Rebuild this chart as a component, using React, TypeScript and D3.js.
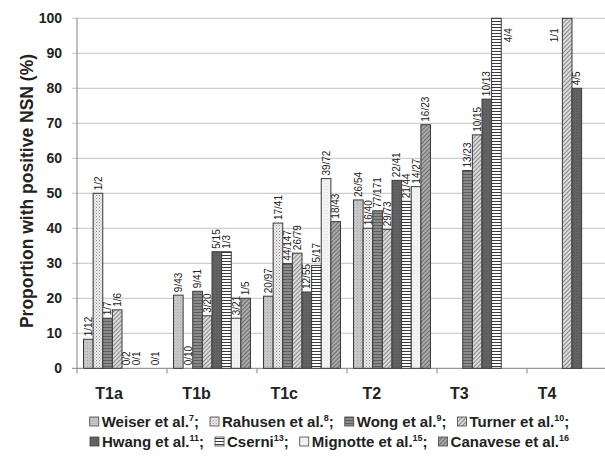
import React, { useEffect, useRef } from "react";
import * as d3 from "d3";

const categories = ["T1a", "T1b", "T1c", "T2", "T3", "T4"];
const seriesNames = ["Weiser et al.", "Rahusen et al.", "Wong et al.", "Turner et al.", "Hwang et al.", "Cserni", "Mignotte et al.", "Canavese et al."];
const seriesRefs = ["7", "8", "9", "10", "11", "13", "15", "16"];

const weiserValues = [8.3, 20.9, 20.6, 48.1, null, null];
const weiserLabels = ["1/12", "9/43", "20/97", "26/54", null, null];
const rahusenValues = [50, 0, 41.5, 40, null, null];
const rahusenLabels = ["1/2", "0/10", "17/41", "16/40", null, null];
const wongValues = [14.3, 22.0, 29.9, 45.0, 56.5, null];
const wongLabels = ["1/7", "9/41", "44/147", "77/171", "13/23", null];
const turnerValues = [16.7, 15.0, 32.9, 39.7, 66.7, 100];
const turnerLabels = ["1/6", "3/20", "26/79", "29/73", "10/15", "1/1"];
const hwangValues = [0, 33.3, 21.8, 53.7, 76.9, 80];
const hwangLabels = ["0/2", "5/15", "12/55", "22/41", "10/13", "4/5"];
const cserniValues = [0, 33.3, 29.4, 47.7, 100, null];
const cserniLabels = ["0/1", "1/3", "5/17", "21/44", "4/4", null];
const mignotteValues = [null, 14.3, 54.2, 51.9, null, null];
const mignotteLabels = [null, "3/21", "39/72", "14/27", null, null];
const canaveseValues = [0, 20, 41.9, 69.6, null, null];
const canaveseLabels = ["0/1", "1/5", "18/43", "16/23", null, null];

const yTicks = [0, 10, 20, 30, 40, 50, 60, 70, 80, 90, 100];

const allValues = [weiserValues, rahusenValues, wongValues, turnerValues, hwangValues, cserniValues, mignotteValues, canaveseValues];
const allLabels = [weiserLabels, rahusenLabels, wongLabels, turnerLabels, hwangLabels, cserniLabels, mignotteLabels, canaveseLabels];

const W = 605;
const H = 457;
const FONT = "'Liberation Sans', Arial, Helvetica, sans-serif";

export default function App() {
  const ref = useRef<SVGSVGElement | null>(null);

  useEffect(() => {
    const svg = d3.select(ref.current);
    svg.selectAll("*").remove();

    // patterns
    const defs = svg.append("defs");
    const mk = (id: string, size: number, bg: string, draw: (p: any) => void, rotate = 0) => {
      const p = defs.append("pattern").attr("id", id).attr("patternUnits", "userSpaceOnUse")
        .attr("width", size).attr("height", size);
      if (rotate) p.attr("patternTransform", `rotate(${rotate})`);
      p.append("rect").attr("width", size).attr("height", size).attr("fill", bg);
      draw(p);
    };
    mk("p0", 3, "#c6c6c6", (p) => { p.append("rect").attr("x", 0).attr("y", 0).attr("width", 1).attr("height", 1).attr("fill", "#aaaaaa"); });
    mk("p1", 3, "#eeeeee", (p) => {
      p.append("rect").attr("x", 0).attr("y", 0).attr("width", 1).attr("height", 1).attr("fill", "#8c8c8c");
      p.append("rect").attr("x", 1.5).attr("y", 1.5).attr("width", 1).attr("height", 1).attr("fill", "#a8a8a8");
    });
    mk("p2", 3, "#8a8a8a", (p) => { p.append("rect").attr("x", 0).attr("y", 0).attr("width", 3).attr("height", 1).attr("fill", "#5e5e5e"); });
    mk("p3", 3, "#dadada", (p) => { p.append("rect").attr("x", 0).attr("y", 0).attr("width", 1).attr("height", 3).attr("fill", "#8a8a8a"); }, 45);
    mk("p4", 3, "#626262", (p) => { p.append("rect").attr("x", 0).attr("y", 0).attr("width", 1).attr("height", 1).attr("fill", "#555555"); });
    mk("p5", 3, "#ffffff", (p) => { p.append("rect").attr("x", 0).attr("y", 0).attr("width", 3).attr("height", 1).attr("fill", "#3a3a3a"); });
    mk("p6", 3, "#f3f3f3", (p) => { p.append("rect").attr("x", 0).attr("y", 0).attr("width", 1).attr("height", 1).attr("fill", "#e0e0e0"); });
    mk("p7", 3, "#a9a9a9", (p) => { p.append("rect").attr("x", 0).attr("y", 0).attr("width", 1).attr("height", 3).attr("fill", "#6e6e6e"); }, 45);

    svg.append("rect").attr("width", W).attr("height", H).attr("fill", "#ffffff");

    const x0 = d3.scaleBand<string>().domain(categories).range([77, 617]).padding(0);
    const x1 = d3.scaleBand<number>().domain(d3.range(seriesNames.length))
      .range([6.5, x0.bandwidth() - 6.5]).padding(0);
    const xLabel = d3.scalePoint<string>().domain(categories).range([109, 547]);
    const y = d3.scaleLinear().domain([0, 100]).range([368.3, 18.3]);

    // gridlines
    svg.append("g").selectAll("line").data(yTicks).join("line")
      .attr("x1", 72).attr("x2", W).attr("y1", (d) => y(d)).attr("y2", (d) => y(d))
      .attr("stroke", (d) => (d === 0 ? "#808080" : "#c4c4c4")).attr("stroke-width", 1);

    // y tick labels
    svg.append("g").selectAll("text").data(yTicks).join("text")
      .attr("x", 62).attr("y", (d) => y(d)).attr("dy", "0.35em")
      .attr("text-anchor", "end").attr("font-family", FONT).attr("font-weight", "bold")
      .attr("font-size", 14).attr("fill", "#222").text((d) => d);

    // y axis title
    svg.append("text")
      .attr("transform", `translate(33,191) rotate(-90)`)
      .attr("text-anchor", "middle").attr("font-family", FONT).attr("font-weight", "bold")
      .attr("font-size", 17.5).attr("fill", "#222").text("Proportion with positive NSN (%)");

    // bars
    const bars = svg.append("g");
    const labels = svg.append("g");
    categories.forEach((cat, ci) => {
      allValues.forEach((vals, si) => {
        const v = vals[ci];
        if (v === null || v === undefined) return;
        const bx = (x0(cat) as number) + (x1(si) as number);
        const bw = x1.bandwidth();
        const top = y(v);
        bars.append("rect").attr("x", bx).attr("y", top).attr("width", bw)
          .attr("height", Math.max(0, y(0) - top)).attr("fill", `url(#p${si})`)
          .attr("stroke", "#3a3a3a").attr("stroke-width", 1);
        const lab = allLabels[si][ci];
        if (!lab) return;
        if (v >= 100) {
          const nextVal = si + 1 < allValues.length ? allValues[si + 1][ci] : null;
          const lx = nextVal !== null && nextVal !== undefined ? bx - 4 : bx + bw + 11;
          labels.append("text").attr("transform", `translate(${lx},${y(100) + 10}) rotate(-90)`)
            .attr("text-anchor", "end").attr("font-family", FONT).attr("font-size", 10)
            .attr("fill", "#222").text(lab);
        } else {
          labels.append("text").attr("transform", `translate(${bx + bw / 2 + 3.6},${top - 3}) rotate(-90)`)
            .attr("text-anchor", "start").attr("font-family", FONT).attr("font-size", 10)
            .attr("fill", "#222").text(lab);
        }
      });
    });

    // axes lines
    svg.append("line").attr("x1", 77).attr("x2", 77).attr("y1", y(100)).attr("y2", y(0))
      .attr("stroke", "#808080").attr("stroke-width", 1);
    const bounds = categories.map((c) => x0(c) as number).concat([(x0(categories[categories.length - 1]) as number) + x0.bandwidth()]);
    svg.append("g").selectAll("line").data(bounds).join("line")
      .attr("x1", (d) => d).attr("x2", (d) => d).attr("y1", y(0)).attr("y2", y(0) + 5)
      .attr("stroke", "#808080");

    // category labels
    svg.append("g").selectAll("text").data(categories).join("text")
      .attr("x", (d) => xLabel(d) as number).attr("y", 399)
      .attr("text-anchor", "middle").attr("font-family", FONT).attr("font-weight", "bold")
      .attr("font-size", 16).attr("fill", "#222").text((d) => d);

    // legend
    const rows = [[0, 1, 2, 3], [4, 5, 6, 7]];
    const rowY = [427, 447];
    const fs = 15;
    const gap = 11;
    rows.forEach((row, ri) => {
      const g = svg.append("g");
      let cx = 0;
      row.forEach((si, k) => {
        g.append("rect").attr("x", cx).attr("y", rowY[ri] - 10).attr("width", 9).attr("height", 9)
          .attr("fill", `url(#p${si})`).attr("stroke", "#444").attr("stroke-width", 0.8);
        const t = g.append("text").attr("x", cx + 12).attr("y", rowY[ri])
          .attr("font-family", FONT).attr("font-weight", "bold").attr("font-size", fs).attr("fill", "#222");
        t.append("tspan").text(seriesNames[si]);
        t.append("tspan").attr("font-size", 9).attr("dy", -6).text(seriesRefs[si]);
        if (k < row.length - 1 || ri === 0) t.append("tspan").attr("dy", 6).text(";");
        const tw = (t.node() as SVGTextElement).getComputedTextLength();
        cx += 12 + tw + gap;
      });
      const total = cx - gap;
      g.attr("transform", `translate(${329.5 - total / 2},0)`);
    });
  }, []);

  return (
    <svg ref={ref} width={W} height={H} style={{ position: "absolute", left: 0, top: 0, display: "block" }} />
  );
}
